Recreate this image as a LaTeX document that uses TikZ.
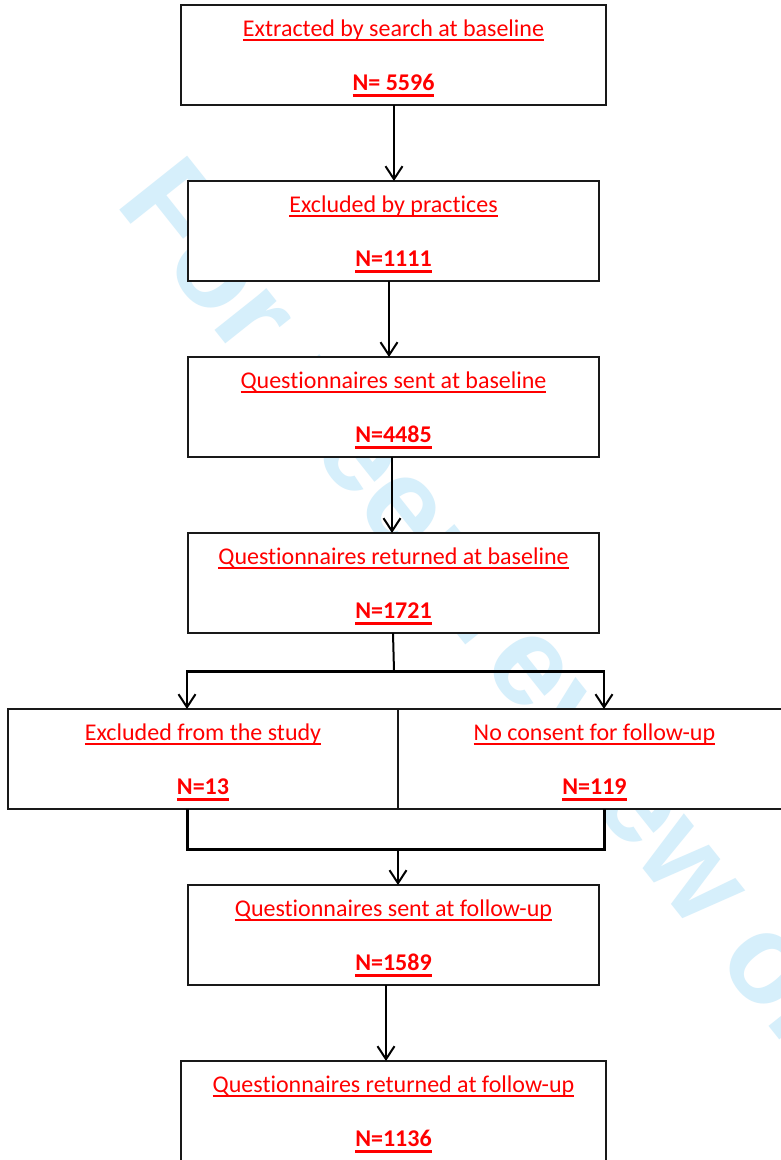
\documentclass[tikz,border=0pt]{standalone}
\usepackage{fontspec}
\setmainfont{Carlito}[Ligatures={NoCommon,NoContextual}]
\newfontfamily\wmfont{Liberation Sans}
\usetikzlibrary{arrows.meta,calc}
\definecolor{wmblue}{RGB}{214,239,251}
\definecolor{txtred}{RGB}{255,0,0}
\definecolor{edge}{RGB}{25,25,25}
\newcommand\ulreg[1]{\sbox0{#1}\rlap{\rule[-5pt]{\wd0}{1.7pt}}\usebox0}
\newcommand\ulbold[1]{\sbox0{\bfseries #1}\rlap{\rule[-6.7pt]{\wd0}{3pt}}\usebox0}
\newcommand\mkbox[3]{%
  \node[lbl,anchor=base] (#1a) at ([yshift=-31pt]#1.north) {\ulreg{#2}};
  \node[lbl,anchor=base] (#1b) at ([yshift=-85pt]#1.north) {\ulbold{#3}};}
\tikzset{
  box/.style={draw=edge, line width=1.8pt, fill=white, minimum width=411pt,
    minimum height=100pt, inner sep=0pt, outer sep=0pt},
  wide/.style={box, minimum width=425pt},
  lbl/.style={text=txtred, font=\fontsize{24}{28}\selectfont, inner sep=0pt},
  conn/.style={draw=black, line width=2pt},
  bar/.style={draw=black, line width=3pt},
  arr/.style={conn, -{Straight Barb[length=13pt,width=17pt]}},
  wm/.style={text=wmblue, font=\wmfont\bfseries\fontsize{126}{126}\selectfont,
    inner sep=0pt, anchor=base west, rotate=-51.5}
}
\begin{document}
\begin{tikzpicture}[x=1pt,y=-1pt]
\useasboundingbox (0,0) rectangle (781,1160);
\clip (0,0) rectangle (781,1160);
\fill[white] (0,0) rectangle (781,1160);
% watermark
\node[wm] (wmark) at (114,203) {For peer review only};
% boxes
\node[wide] (b1) at (393.5,55) {};
\node[box] (b2) at (393.5,231) {};
\node[box] (b3) at (393.5,407) {};
\node[box] (b4) at (393.5,583) {};
\node[box, minimum width=390pt] (bL) at (203,759) {};
\node[box, minimum width=393pt] (bR) at (594.5,759) {};
\node[box] (b6) at (393.5,935) {};
\node[wide] (b7) at (393.5,1111) {};
\mkbox{b1}{Extracted by search at baseline}{N= 5596}
\mkbox{b2}{Excluded by practices}{N=1111}
\mkbox{b3}{Questionnaires sent at baseline}{N=4485}
\mkbox{b4}{Questionnaires returned at baseline}{N=1721}
\mkbox{bL}{Excluded from the study}{N=13}
\mkbox{bR}{No consent for follow-up}{N=119}
\mkbox{b6}{Questionnaires sent at follow-up}{N=1589}
\mkbox{b7}{Questionnaires returned at follow-up}{N=1136}
% connectors
\draw[arr] ([xshift=0.5pt]b1.south) -- ([xshift=0.5pt]b2.north);
\draw[arr] ([xshift=-4.5pt]b2.south) -- ([xshift=-4.5pt]b3.north);
\draw[arr] ([xshift=-1.5pt]b3.south) -- ([xshift=-1.5pt]b4.north);
\coordinate (sm) at (394,671);
\coordinate (sl) at (187,671);
\coordinate (sr) at (604,671);
\draw[conn] ([xshift=-0.5pt]b4.south) -- (sm);
\draw[bar] ([xshift=-1pt]sl) -- ([xshift=1pt]sr);
\draw[arr] (sl) -- (sl |- bL.north);
\draw[arr] (sr) -- (sr |- bR.north);
\coordinate (ml) at (187,849);
\coordinate (mr) at (604,849);
\coordinate (mm) at (398,849);
\draw[bar] (sl |- bL.south) -- (ml) -- (mr) -- (sr |- bR.south);
\draw[arr] (mm) -- (mm |- b6.north);
\draw[arr] ([xshift=-7.5pt]b6.south) -- ([xshift=-7.5pt]b7.north);
\end{tikzpicture}
\end{document}
